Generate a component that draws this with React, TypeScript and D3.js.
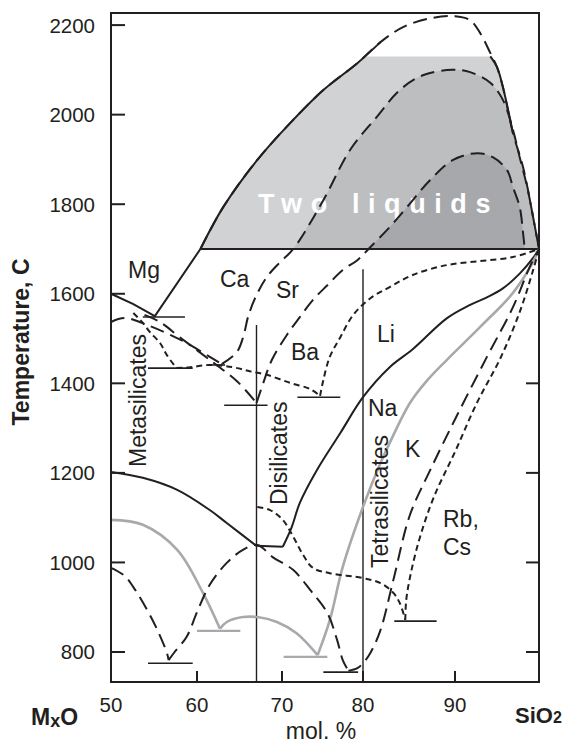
import React from 'react';
import * as d3 from 'd3';

// mol.% SiO2 vs temperature (C)
const xTicks = [50, 60, 70, 80, 90];
const yTicks = [800, 1000, 1200, 1400, 1600, 1800, 2000, 2200];
const rightTicks = [800, 1000, 1200, 1400];
const bottomTicks = [60, 70, 80, 90];

const monotectic = [[60.4, 1700], [100, 1700]];
const grayCap = 2130;

// Mg
const mgLiquidus = [[50, 1600], [52.6, 1577], [55.1, 1550], [60.4, 1700]];
const mgSolvus = [[60.4, 1700], [63.1, 1794], [67.1, 1899], [71.0, 1981], [75.1, 2055], [79.3, 2115], [81.9, 2162]];
const mgSolvusUpper = [[81.9, 2162], [84.4, 2196], [87.3, 2215], [90, 2220], [91.8, 2211], [93.0, 2182], [94.2, 2138], [95.0, 2106], [95.7, 2062], [96.9, 1959], [98.1, 1883], [99.3, 1771], [100, 1700]];
const mgSolvusEdge = [[94.2, 2130], [95.0, 2106], [95.7, 2062], [96.9, 1959]];

// Ca
const caLeft = [[50, 1537], [51.6, 1546], [54.5, 1528], [58.4, 1494], [60.4, 1472], [62.9, 1443]];
const caRight = [[62.9, 1443], [64.7, 1470], [65.5, 1508], [66.0, 1548], [66.9, 1593], [68.2, 1637], [69.8, 1671], [71.4, 1700], [75.1, 1809], [78.4, 1921], [81.5, 1995], [84.0, 2055], [86.5, 2088], [89.7, 2100], [91.8, 2095], [94.2, 2071], [95.7, 2033], [96.9, 1966], [97.7, 1905], [98.6, 1838], [99.3, 1771], [100, 1700]];

// Sr
const srLeft = [[53.9, 1553], [55.7, 1537], [58.0, 1503], [61.8, 1448], [64.8, 1403], [67.0, 1356]];
const srRight = [[67.0, 1356], [67.8, 1401], [68.8, 1452], [70.6, 1508], [72.2, 1548], [73.8, 1586], [75.6, 1619], [77.5, 1653], [79.3, 1675], [80.6, 1700], [82.9, 1749], [84.8, 1794], [87.3, 1854], [89.8, 1899], [92.7, 1914], [94.5, 1905], [96.2, 1876], [96.9, 1838], [97.7, 1794], [98.1, 1736], [98.3, 1700]];

// Ba
const baLeft = [[52.6, 1557], [53.7, 1535], [54.5, 1515], [55.7, 1490], [56.5, 1463], [57.6, 1434]];
const baMid = [[57.6, 1434], [59.2, 1436], [61.5, 1441], [64.2, 1436], [66.2, 1427], [68.2, 1419], [71.0, 1401], [73.5, 1387], [74.7, 1372]];
const baRight = [[74.7, 1372], [75.1, 1407], [75.9, 1459], [77.2, 1503], [78.8, 1553], [80.8, 1590], [82.9, 1615], [85.4, 1642], [89.1, 1664], [93.0, 1673], [96.9, 1682], [100, 1700]];

// Li
const liLeft = [[50, 1202], [53.7, 1189], [57.7, 1162], [61.5, 1117], [63.5, 1088], [67.0, 1037]];
const liFlat = [[67.0, 1037], [70.1, 1035]];
const liRight = [[70.1, 1035], [71.2, 1079], [72.2, 1133], [74.3, 1206], [77.2, 1289], [80, 1369], [82.9, 1436], [85.4, 1476], [89.1, 1545], [91.8, 1575], [93.8, 1592], [95.7, 1612], [97.7, 1645], [99.3, 1680], [100, 1700]];

// Na
const naLeft = [[50, 1095], [53.7, 1084], [57.7, 1028], [60.7, 932], [62.7, 852]];
const naDome = [[62.7, 852], [63.5, 867], [65.4, 878], [67.1, 878], [69.4, 867], [71.8, 842], [74.4, 793]];
const naRight = [[74.4, 793], [75.9, 871], [77.5, 990], [80, 1124], [81.9, 1222], [83.2, 1280], [85.1, 1356], [87.0, 1407], [89.1, 1452], [93.0, 1526], [96.9, 1602], [99.3, 1671], [100, 1700]];

// K
const kLeft = [[50, 988], [51.6, 970], [52.6, 945], [54.2, 894], [55.4, 849], [56.5, 798], [56.7, 782]];
const kMid = [[56.7, 782], [57.4, 800], [58.8, 834], [60, 889], [61.5, 950], [63.5, 999], [65.4, 1028], [67.1, 1039], [68.9, 1012], [71.4, 983], [73.5, 938], [75.6, 887], [76.8, 827], [77.5, 782], [78.2, 758]];
const kRight = [[78.2, 758], [79.3, 764], [80, 775], [80.8, 798], [81.9, 849], [83.3, 961], [85.1, 1106], [87.3, 1206], [90.2, 1327], [93.8, 1459], [96.9, 1570], [98.9, 1660], [100, 1700]];

// Rb, Cs
const rbLeft = [[67.1, 1124], [68.6, 1117], [70.1, 1095], [71.4, 1057], [72.6, 1017], [73.8, 988], [75.9, 976], [80, 965], [81.9, 954], [83.3, 932], [84.0, 909], [84.6, 872]];
const rbRight = [[84.6, 872], [84.7, 916], [85.2, 976], [86.2, 1057], [87.7, 1146], [90, 1247], [92.6, 1356], [95.4, 1456], [97.7, 1559], [99.3, 1653], [100, 1700]];

// invariant lines [from, to, T]
const eutectics = [[53.7, 58.6, 1548], [54.3, 59.5, 1434], [61.2, 63.3, 1441], [63.2, 68.3, 1351], [71.9, 77.2, 1369], [54.3, 59.5, 775], [75.1, 79.4, 755], [83.4, 88.0, 869]];
const naEutectics = [[60, 65.1, 847], [70.2, 75.6, 789]];

// compound compositions and top of their lines
const compounds = [67, 80];
const compoundTops = [1530, 1655];

const FONT = 'Liberation Sans, Arial, Helvetica, sans-serif';
const INK = '#231f20';
const GREY = '#a7a9ac';

const App = () => {
  const x = d3.scaleLinear().domain([50, 60, 70, 80, 90, 100]).range([111, 197, 282, 363, 455, 539]);
  const y = d3.scaleLinear().domain([733, 2227]).range([682, 13]);

  const smooth = d3.line<number[]>().x(d => x(d[0])).y(d => y(d[1])).curve(d3.curveCatmullRom.alpha(0.5));
  const straight = d3.line<number[]>().x(d => x(d[0])).y(d => y(d[1]));

  const dome = (pts: number[][]) => smooth(pts.filter(d => d[1] >= 1700)) + 'Z';

  const solid = { fill: 'none', stroke: INK, strokeWidth: 2 };
  const longDash = { ...solid, strokeDasharray: '14 7' };
  const shortDash = { ...solid, strokeDasharray: '6 4' };
  const grey = { fill: 'none', stroke: GREY, strokeWidth: 2.6 };

  const [x0, x1] = [x(50), x(100)];
  const mgDome = [...mgSolvus, ...mgSolvusUpper.slice(1)];

  return (
    <svg width={570} height={743} style={{ position: 'absolute', left: 0, top: 0, background: '#fff' }} fontFamily={FONT}>
      <defs>
        <clipPath id="cap">
          <rect x={x0} y={y(grayCap)} width={x1 - x0} height={y(1700) - y(grayCap)} />
        </clipPath>
      </defs>

      {/* two-liquid fields */}
      <path d={smooth(mgDome) + 'Z'} fill="#d1d2d4" clipPath="url(#cap)" />
      <path d={dome(caRight)} fill="#bcbec0" />
      <path d={dome(srRight)} fill="#a7a8ab" />

      <text x={258} y={213} fill="#fff" fontWeight="bold" fontSize={27} letterSpacing={8.6}>Two liquids</text>

      {/* compound lines */}
      {compounds.map((c, i) => (
        <line key={c} x1={x(c)} x2={x(c)} y1={y(compoundTops[i])} y2={y(733)} stroke={INK} strokeWidth={1.4} />
      ))}

      {/* invariant lines */}
      {eutectics.map((e, i) => (
        <line key={'e' + i} x1={x(e[0])} x2={x(e[1])} y1={y(e[2])} y2={y(e[2])} stroke={INK} strokeWidth={1.6} />
      ))}
      {naEutectics.map((e, i) => (
        <line key={'n' + i} x1={x(e[0])} x2={x(e[1])} y1={y(e[2])} y2={y(e[2])} stroke={GREY} strokeWidth={2.2} />
      ))}

      {/* Mg */}
      <path d={straight(mgLiquidus)!} {...solid} />
      <path d={straight(monotectic)!} {...solid} />
      <path d={smooth(mgDome)!} {...longDash} />
      <path d={smooth(mgSolvus)!} {...solid} />
      <path d={smooth(mgSolvusEdge)!} {...solid} />

      {/* Ca, Sr */}
      <path d={smooth(caLeft)!} {...longDash} />
      <path d={smooth(caRight)!} {...longDash} />
      <path d={smooth(srLeft)!} {...longDash} />
      <path d={smooth(srRight)!} {...longDash} />

      {/* Ba */}
      <path d={smooth(baLeft)!} {...shortDash} />
      <path d={smooth(baMid)!} {...shortDash} />
      <path d={smooth(baRight)!} {...shortDash} />

      {/* Li */}
      <path d={smooth(liLeft)!} {...solid} />
      <path d={straight(liFlat)!} {...solid} />
      <path d={smooth(liRight)!} {...solid} />

      {/* Na */}
      <path d={smooth(naLeft)!} {...grey} />
      <path d={smooth(naDome)!} {...grey} />
      <path d={smooth(naRight)!} {...grey} />

      {/* K */}
      <path d={smooth(kLeft)!} {...longDash} />
      <path d={smooth(kMid)!} {...longDash} />
      <path d={smooth(kRight)!} {...longDash} />

      {/* Rb, Cs */}
      <path d={smooth(rbLeft)!} {...shortDash} />
      <path d={smooth(rbRight)!} {...shortDash} />

      {/* frame and ticks */}
      <rect x={x0} y={y(2227)} width={x1 - x0} height={y(733) - y(2227)} fill="none" stroke={INK} strokeWidth={2} />
      {yTicks.map(t => (
        <g key={t}>
          <line x1={x0} x2={x0 + 14} y1={y(t)} y2={y(t)} stroke={INK} strokeWidth={2} />
          <text x={95} y={y(t) + 7.5} textAnchor="end" fontSize={20.5} fill={INK}>{t}</text>
        </g>
      ))}
      {rightTicks.map(t => (
        <line key={'r' + t} x1={x1 - 13} x2={x1} y1={y(t)} y2={y(t)} stroke={INK} strokeWidth={2} />
      ))}
      {bottomTicks.map(t => (
        <line key={'b' + t} x1={x(t)} x2={x(t)} y1={y(733)} y2={y(733) - 11} stroke={INK} strokeWidth={2} />
      ))}
      {xTicks.map(t => (
        <text key={'xl' + t} x={x(t)} y={712} textAnchor="middle" fontSize={20.5} fill={INK}>{t}</text>
      ))}

      {/* axis titles */}
      <text transform="translate(29,342) rotate(-90)" textAnchor="middle" fontWeight="bold" fontSize={23} fill={INK}>Temperature, C</text>
      <text x={321} y={739} textAnchor="middle" fontSize={23} fill={INK}>mol. %</text>
      <text x={31} y={725} fontWeight="bold" fontSize={23} fill={INK}>M<tspan fontSize={18} dy={2}>x</tspan><tspan dy={-2}>O</tspan></text>
      <text x={515} y={723} fontWeight="bold" fontSize={22} fill={INK}>SiO<tspan fontSize={16}>2</tspan></text>

      {/* series labels */}
      <g fontSize={23} fill={INK}>
        <text x={128} y={278}>Mg</text>
        <text x={220} y={287}>Ca</text>
        <text x={276} y={298}>Sr</text>
        <text x={291} y={360}>Ba</text>
        <text x={377} y={342}>Li</text>
        <text x={368} y={416}>Na</text>
        <text x={405} y={457}>K</text>
        <text x={443} y={527}>Rb,</text>
        <text x={443} y={555}>Cs</text>
        <text transform="translate(146,467) rotate(-90)">Metasilicates</text>
        <text transform="translate(287,505) rotate(-90)">Disilicates</text>
        <text transform="translate(388,568) rotate(-90)">Tetrasilicates</text>
      </g>
    </svg>
  );
};

export default App;
